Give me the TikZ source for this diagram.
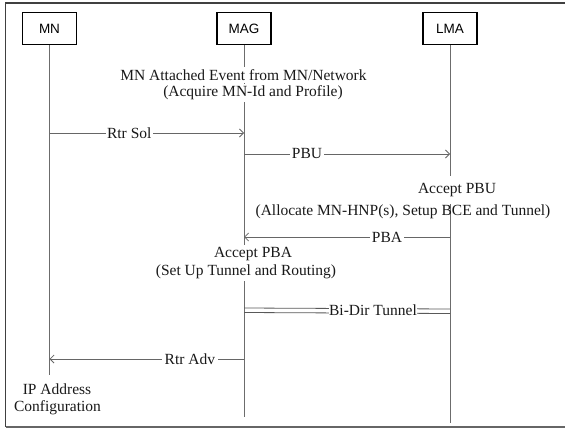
\documentclass[tikz,border=0pt]{standalone}
\usepackage{fontspec}
\setmainfont{Liberation Serif}
\newfontfamily\actorfont{Liberation Sans}
\usetikzlibrary{arrows.meta}
\begin{document}
\begin{tikzpicture}[x=1pt,y=-1pt,
  actor/.style={draw=black, line width=1.3pt, fill=white, minimum width=54pt,
    minimum height=31.5pt, inner sep=0pt, font=\actorfont\fontsize{13.5}{16}\selectfont},
  lifeline/.style={draw=gray!85!black, line width=0.8pt},
  msg/.style={draw=gray!80!black, line width=0.8pt, -{Straight Barb[length=4pt,width=8pt]}},
  tunnel/.style={draw=gray!70!black, line width=0.8pt},
  lbl/.style={fill=white, inner xsep=1.5pt, inner ysep=0pt, text=black!90,
    font=\fontsize{15.5}{18}\selectfont},
  note/.style={fill=white, inner xsep=1pt, inner ysep=2pt, text=black!90,
    font=\fontsize{15.5}{18}\selectfont},
  plain/.style={inner sep=0pt, text=black!90, font=\fontsize{15.5}{18}\selectfont}
]
\useasboundingbox (0,0) rectangle (565,428);
\clip (0,0) rectangle (565,428);

% outer frame (continues past the right edge)
\draw[line width=1.6pt, black!75] (5.5,427) -- (5.5,3) -- (620,3);
\draw[line width=1.6pt, black!60] (5.5,427) -- (620,427);

% participants
\node[actor] (mn)  at (49.5,28.5) {MN};
\node[actor] (mag) at (244,28.5)  {MAG};
\node[actor] (lma) at (450,28.5)  {LMA};

% lifelines
\coordinate (mnEnd)  at (49.5,375);
\coordinate (magEnd) at (244,417);
\coordinate (lmaEnd) at (450,423);
\draw[lifeline] (mn.south)  -- (mnEnd);
\draw[lifeline] (mag.south) -- (magEnd);
\draw[lifeline] (lma.south) -- (lmaEnd);

% message anchors on the lifelines
\coordinate (mnRs)  at (49.5,133);  \coordinate (magRs)  at (244,133);
\coordinate (magPbu) at (244,154);  \coordinate (lmaPbu) at (450,154);
\coordinate (lmaPba) at (450,237);  \coordinate (magPba) at (244,237);
\coordinate (magTunA) at (244,308); \coordinate (lmaTunA) at (450,309);
\coordinate (magTunB) at (244,312.5); \coordinate (lmaTunB) at (450,313.5);
\coordinate (magRa)  at (244,359);  \coordinate (mnRa)   at (49.5,359);

% processing notes
\node[note] (att1) at (243.5,75) {MN Attached Event from MN/Network};
\node[note] (att2) at (253,93)   {(Acquire MN-Id and Profile)};
\node[note, inner ysep=7pt] (apbu1) at (457,190) {Accept PBU};
\node[plain] (apbu2) at (403,212) {(Allocate MN-HNP(s), Setup BCE and Tunnel)};
\node[note] (apba1) at (253,254) {Accept PBA};
\node[note] (apba2) at (246,272) {(Set Up Tunnel and Routing)};
\node[plain] (ipc1) at (57,389) {IP Address};
\node[plain] (ipc2) at (57.5,408) {Configuration};

% messages
\draw[msg] (mnRs) -- node[lbl, pos=0.41] (rtrsol) {Rtr Sol} (magRs);
\draw[msg] (magPbu) -- node[lbl, pos=0.306] (pbu) {PBU} (lmaPbu);
\draw[msg] (lmaPba) -- node[lbl, pos=0.306] (pba) {PBA} (magPba);

% bidirectional tunnel: two parallel lines under one label
\draw[tunnel] (magTunA) -- (lmaTunA);
\draw[tunnel] (magTunB) -- (lmaTunB);
\node[lbl, inner xsep=0.5pt] (tun) at (373,310.5) {Bi-Dir Tunnel};

\draw[msg] (magRa) -- node[lbl, pos=0.278, inner xsep=2.5pt] (rtradv) {Rtr Adv} (mnRa);
\end{tikzpicture}
\end{document}
